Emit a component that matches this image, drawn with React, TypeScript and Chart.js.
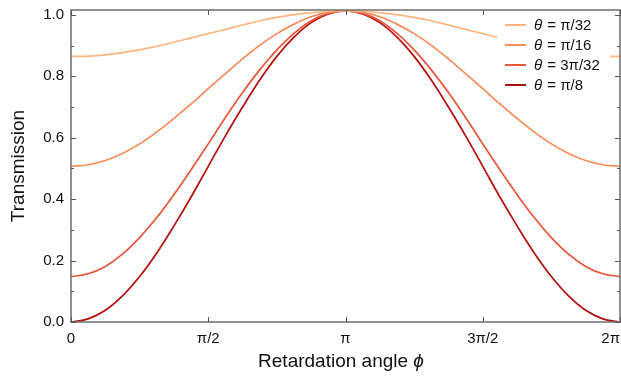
import React, { useEffect, useRef } from "react";
import { Chart, registerables } from "chart.js";

Chart.register(...registerables);

// Retardation angle in units of π
const PHI_OVER_PI = [
  0, 0.0625, 0.125, 0.1875, 0.25, 0.3125, 0.375, 0.4375, 0.5, 0.5625, 0.625, 0.6875, 0.75, 0.8125, 0.875, 0.9375, 1,
  1.0625, 1.125, 1.1875, 1.25, 1.3125, 1.375, 1.4375, 1.5, 1.5625, 1.625, 1.6875, 1.75, 1.8125, 1.875, 1.9375, 2,
];

const T_PI_32 = [
  0.865, 0.866, 0.87, 0.877, 0.886, 0.898, 0.911, 0.925, 0.939, 0.953, 0.967, 0.981, 0.992, 1.001, 1.007, 1.012, 1.013,
  1.012, 1.007, 1.001, 0.992, 0.981, 0.967, 0.953, 0.939, 0.925, 0.911, 0.898, 0.886, 0.877, 0.87, 0.866, 0.865,
];
const T_PI_16 = [
  0.507, 0.512, 0.526, 0.549, 0.58, 0.619, 0.663, 0.71, 0.76, 0.809, 0.857, 0.901, 0.939, 0.97, 0.994, 1.008, 1.013,
  1.008, 0.994, 0.97, 0.939, 0.901, 0.857, 0.809, 0.76, 0.71, 0.663, 0.619, 0.58, 0.549, 0.526, 0.512, 0.507,
];
const T_3PI_32 = [
  0.148, 0.157, 0.181, 0.221, 0.275, 0.34, 0.415, 0.496, 0.58, 0.666, 0.747, 0.821, 0.886, 0.94, 0.981, 1.005, 1.013,
  1.005, 0.981, 0.94, 0.886, 0.821, 0.747, 0.666, 0.58, 0.496, 0.415, 0.34, 0.275, 0.221, 0.181, 0.157, 0.148,
];
const T_PI_8 = [
  0, 0.01, 0.038, 0.085, 0.148, 0.225, 0.313, 0.407, 0.507, 0.606, 0.7, 0.788, 0.865, 0.928, 0.975, 1.003, 1.013,
  1.003, 0.975, 0.928, 0.865, 0.788, 0.7, 0.606, 0.507, 0.407, 0.313, 0.225, 0.148, 0.085, 0.038, 0.01, 0,
];

const SERIES_LABELS = ["π/32", "π/16", "3π/32", "π/8"];
const SERIES_COLORS = ["#fdb47f", "#fa8a58", "#e9553b", "#b40d0d"];
const SERIES_DATA = [T_PI_32, T_PI_16, T_3PI_32, T_PI_8];

const X_TICK_VALUES = [0, 0.5, 1, 1.5, 2];
const X_TICK_LABELS = ["0", "π/2", "π", "3π/2", "2π"];
const Y_TICK_VALUES = [0, 0.2, 0.4, 0.6, 0.8, 1.0];

const FONT = "'Liberation Sans', Arial, Helvetica, sans-serif";

const framePlugin = {
  id: "frameAndLegend",
  afterDatasetsDraw(chart: any) {
    const { ctx, chartArea } = chart;
    const { left, right, top, bottom } = chartArea;
    const xs = chart.scales.x;
    const ys = chart.scales.y;
    ctx.save();

    // legend
    ctx.fillStyle = "#ffffff";
    ctx.fillRect(497, 13, 113, 83);
    const rowY = [25, 45, 65, 85];
    for (let i = 0; i < SERIES_LABELS.length; i++) {
      const y = rowY[i];
      ctx.strokeStyle = SERIES_COLORS[i];
      ctx.lineWidth = 2;
      ctx.beginPath();
      ctx.moveTo(505, y);
      ctx.lineTo(526, y);
      ctx.stroke();
      ctx.fillStyle = "#111";
      ctx.textBaseline = "middle";
      ctx.textAlign = "left";
      ctx.font = `italic 15px ${FONT}`;
      ctx.fillText("θ", 534, y + 1);
      const w = ctx.measureText("θ").width;
      ctx.font = `15px ${FONT}`;
      ctx.fillText(" = " + SERIES_LABELS[i], 534 + w + 1, y + 1);
    }

    // frame
    ctx.strokeStyle = "#6e6e6e";
    ctx.lineWidth = 1.5;
    ctx.strokeRect(left, top, right - left, bottom - top);
    // ticks
    ctx.lineWidth = 1;
    ctx.strokeStyle = "#555";
    ctx.beginPath();
    for (const v of X_TICK_VALUES) {
      const px = Math.round(xs.getPixelForValue(v)) + 0.5;
      ctx.moveTo(px, bottom);
      ctx.lineTo(px, bottom - 5);
      ctx.moveTo(px, top);
      ctx.lineTo(px, top + 5);
    }
    for (let i = 0; i <= 10; i++) {
      const v = i / 10;
      const py = Math.round(ys.getPixelForValue(v)) + 0.5;
      const len = i % 2 === 0 ? 5 : 3;
      ctx.moveTo(left, py);
      ctx.lineTo(left + len, py);
      ctx.moveTo(right, py);
      ctx.lineTo(right - len, py);
    }
    ctx.stroke();

    // x tick labels
    ctx.fillStyle = "#111";
    ctx.font = `15px ${FONT}`;
    ctx.textAlign = "center";
    ctx.textBaseline = "alphabetic";
    X_TICK_VALUES.forEach((v, i) => {
      const label = X_TICK_LABELS[i];
      const wl = ctx.measureText(label).width;
      let px = xs.getPixelForValue(v);
      px = Math.min(px, 620 - wl / 2);
      ctx.fillText(label, px, 343);
    });

    // axis titles
    const t1 = "Retardation angle ";
    ctx.font = `19px ${FONT}`;
    const w1 = ctx.measureText(t1).width;
    ctx.font = `italic 19px ${FONT}`;
    const w2 = ctx.measureText("ϕ").width;
    const cx = 341;
    const startX = cx - (w1 + w2) / 2;
    ctx.textAlign = "left";
    ctx.textBaseline = "alphabetic";
    ctx.font = `19px ${FONT}`;
    ctx.fillText(t1, startX, 367);
    ctx.font = `italic 19px ${FONT}`;
    ctx.fillText("ϕ", startX + w1, 367);

    ctx.save();
    ctx.translate(24, (top + bottom) / 2);
    ctx.rotate(-Math.PI / 2);
    ctx.textAlign = "center";
    ctx.textBaseline = "alphabetic";
    ctx.font = `19px ${FONT}`;
    ctx.fillText("Transmission", 0, 0);
    ctx.restore();

    ctx.restore();
  },
};

export default function App() {
  const ref = useRef<HTMLCanvasElement | null>(null);
  useEffect(() => {
    if (!ref.current) return;
    const chart = new Chart(ref.current, {
      type: "line",
      data: {
        datasets: SERIES_DATA.map((arr, i) => ({
          label: "θ = " + SERIES_LABELS[i],
          data: arr.map((y, k) => ({ x: PHI_OVER_PI[k], y })),
          borderColor: SERIES_COLORS[i],
          borderWidth: 1.7,
          pointRadius: 0,
          tension: 0.4,
          fill: false,
        })),
      },
      options: {
        responsive: false,
        animation: false,
        layout: { padding: { top: 10, right: 1, left: 0, bottom: 0 } },
        plugins: { legend: { display: false }, tooltip: { enabled: false } },
        scales: {
          x: {
            type: "linear",
            min: 0,
            max: 2,
            grid: { display: false, drawTicks: false },
            border: { display: false },
            afterBuildTicks: (axis: any) => {
              axis.ticks = X_TICK_VALUES.map((v) => ({ value: v }));
            },
            afterFit: (axis: any) => {
              axis.height = 57;
              axis.paddingLeft = 0;
              axis.paddingRight = 0;
            },
            ticks: { display: false },
          },
          y: {
            type: "linear",
            min: 0,
            max: 1.016,
            grid: { display: false, drawTicks: false },
            border: { display: false },
            afterBuildTicks: (axis: any) => {
              axis.ticks = Y_TICK_VALUES.map((v) => ({ value: v }));
            },
            afterFit: (axis: any) => {
              axis.width = 71;
              axis.paddingTop = 0;
              axis.paddingBottom = 0;
            },
            ticks: {
              padding: 7,
              color: "#111",
              font: { family: FONT, size: 15 },
              callback: (v: any) => Number(v).toFixed(1),
            },
          },
        },
      },
      plugins: [framePlugin],
    } as any);
    return () => chart.destroy();
  }, []);
  return (
    <div style={{ position: "absolute", left: 0, top: 0, width: 621, height: 379, background: "#fff" }}>
      <canvas ref={ref} width={621} height={379} style={{ display: "block" }} />
    </div>
  );
}
